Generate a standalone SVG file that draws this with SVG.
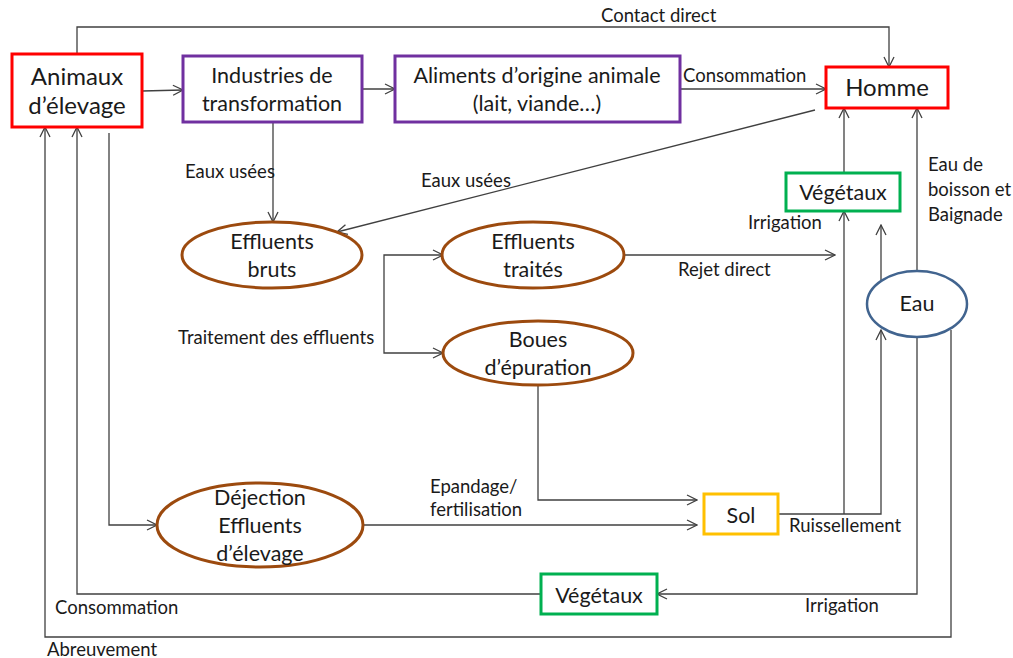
<svg xmlns="http://www.w3.org/2000/svg" width="1013" height="658" viewBox="0 0 1013 658">
<style>
.n{font-family:Lato,"Open Sans","Liberation Sans",sans-serif;font-size:21.5px;fill:#1a1a1a;text-anchor:middle}
.b{font-size:24px}
.l{font-family:Lato,"Open Sans","Liberation Sans",sans-serif;font-size:18.5px;fill:#1a1a1a}
.c{fill:none;stroke:#404040;stroke-width:1.3}
.red{fill:#fff;stroke:#ff0000;stroke-width:3}
.pur{fill:#fff;stroke:#7030a0;stroke-width:3}
.grn{fill:#fff;stroke:#00b050;stroke-width:3}
.org{fill:#fff;stroke:#ffc000;stroke-width:3}
.brn{fill:#fff;stroke:#9c4a0e;stroke-width:3}
.blu{fill:#fff;stroke:#41648f;stroke-width:2.5}
</style>
<defs>
<marker id="a" markerWidth="12" markerHeight="12" refX="11" refY="6" orient="auto" markerUnits="userSpaceOnUse">
<path d="M1,1 L11,6 L1,11" fill="none" stroke="#404040" stroke-width="1.3"/>
</marker>
</defs>
<rect width="1013" height="658" fill="#fff"/>
<g id="connectors" class="c">
<path d="M77,54 V27 H889 V67" marker-end="url(#a)"/>
<path d="M142,91 L183,90" marker-end="url(#a)"/>
<path d="M362,89 H395" marker-end="url(#a)"/>
<path d="M680,89 H826" marker-end="url(#a)"/>
<path d="M273,122 V222" marker-end="url(#a)"/>
<path d="M815,110 L337,232" marker-end="url(#a)"/>
<path d="M384,304 V255 H443" marker-end="url(#a)"/>
<path d="M384,304 V353 H443" marker-end="url(#a)"/>
<path d="M624,255 H835" marker-end="url(#a)"/>
<path d="M844,173 V108" marker-end="url(#a)"/>
<path d="M844,514 V211" marker-end="url(#a)"/>
<path d="M881,281 L881,225" marker-end="url(#a)"/>
<path d="M917,271 V108" marker-end="url(#a)"/>
<path d="M778,514 H881 V330" marker-end="url(#a)"/>
<path d="M917,337 V594 H657" marker-end="url(#a)"/>
<path d="M951,330 V637 H45 V127" marker-end="url(#a)"/>
<path d="M541,594 H77 V127" marker-end="url(#a)"/>
<path d="M109,133 V525 H157" marker-end="url(#a)"/>
<path d="M363,525 H697" marker-end="url(#a)"/>
<path d="M538,385 V500 H697" marker-end="url(#a)"/>
</g>
<g id="animaux"><rect class="red" x="12" y="54" width="130" height="73"/><text class="n b" x="77" y="85">Animaux</text><text class="n b" x="77" y="114">d’élevage</text></g>
<g id="industries"><rect class="pur" x="183" y="56" width="179" height="66"/><text class="n" x="272" y="83">Industries de</text><text class="n" x="272" y="111">transformation</text></g>
<g id="aliments"><rect class="pur" x="395" y="56" width="285" height="66"/><text class="n" x="537" y="83">Aliments d’origine animale</text><text class="n" x="537" y="111">(lait, viande…)</text></g>
<g id="homme"><rect class="red" x="826" y="67" width="122" height="41"/><text class="n b" x="887" y="96">Homme</text></g>
<g id="vegetaux-haut"><rect class="grn" x="786" y="173" width="114" height="38"/><text class="n" x="843" y="200">Végétaux</text></g>
<g id="effluents-bruts"><ellipse class="brn" cx="272" cy="255" rx="90" ry="33"/><text class="n" x="272" y="249">Effluents</text><text class="n" x="272" y="277">bruts</text></g>
<g id="effluents-traites"><ellipse class="brn" cx="533" cy="255" rx="91" ry="33"/><text class="n" x="533" y="249">Effluents</text><text class="n" x="533" y="277">traités</text></g>
<g id="boues"><ellipse class="brn" cx="538" cy="353" rx="95" ry="32"/><text class="n" x="538" y="347">Boues</text><text class="n" x="538" y="375">d’épuration</text></g>
<g id="eau"><ellipse class="blu" cx="917" cy="304" rx="50" ry="33"/><text class="n" x="917" y="311">Eau</text></g>
<g id="dejection"><ellipse class="brn" cx="260" cy="525" rx="103" ry="42"/><text class="n" x="260" y="505">Déjection</text><text class="n" x="260" y="533">Effluents</text><text class="n" x="260" y="561">d’élevage</text></g>
<g id="sol"><rect class="org" x="704" y="494" width="74" height="40"/><text class="n" x="741" y="523">Sol</text></g>
<g id="vegetaux-bas"><rect class="grn" x="541" y="574" width="116" height="40"/><text class="n" x="599" y="603">Végétaux</text></g>
<g id="labels">
<text class="l" x="601" y="22">Contact direct</text>
<text class="l" x="683" y="82">Consommation</text>
<text class="l" x="185" y="178">Eaux usées</text>
<text class="l" x="421" y="187">Eaux usées</text>
<text class="l" x="748" y="229">Irrigation</text>
<text class="l" x="928" y="171">Eau de</text>
<text class="l" x="928" y="196">boisson et</text>
<text class="l" x="928" y="221">Baignade</text>
<text class="l" x="678" y="276">Rejet direct</text>
<text class="l" x="178" y="344">Traitement des effluents</text>
<text class="l" x="430" y="493">Epandage/</text>
<text class="l" x="430" y="516">fertilisation</text>
<text class="l" x="789" y="532">Ruissellement</text>
<text class="l" x="805" y="612">Irrigation</text>
<text class="l" x="55" y="614">Consommation</text>
<text class="l" x="47" y="656">Abreuvement</text>
</g>
</svg>
